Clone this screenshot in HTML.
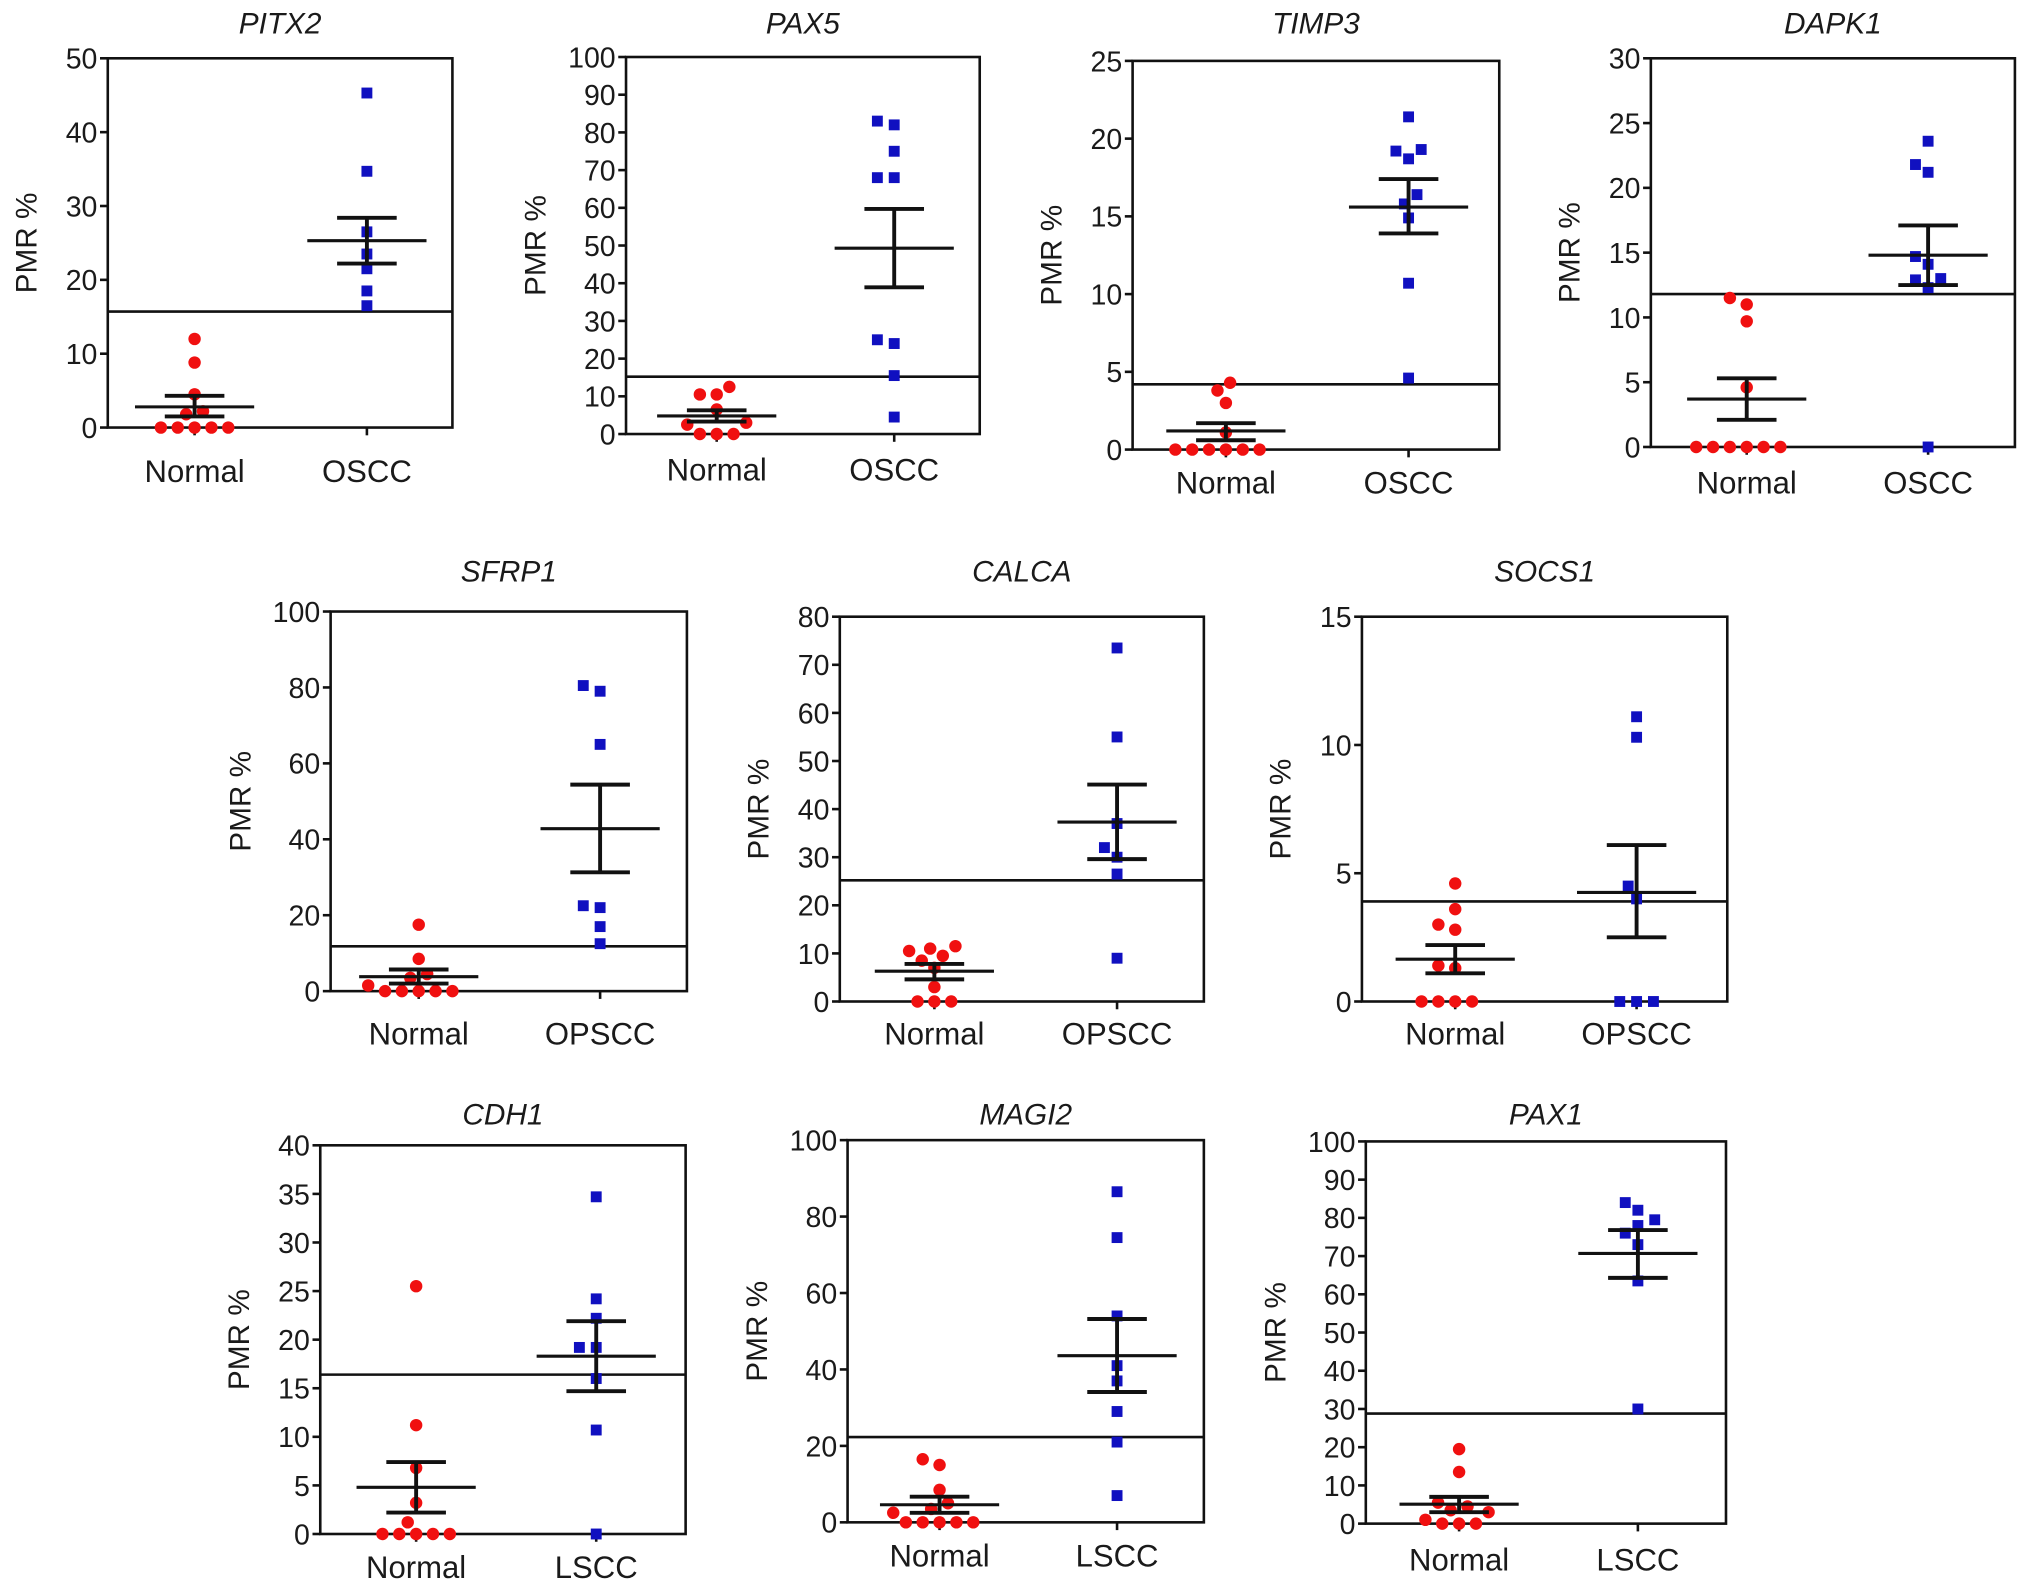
<!DOCTYPE html>
<html><head><meta charset="utf-8"><style>
html,body{margin:0;padding:0;background:#fff;}
svg{display:block;}
text{font-family:"Liberation Sans",Arial,sans-serif;fill:#1a1a1a;}
</style></head><body>
<svg id="fig" width="2032" height="1591" viewBox="0 0 1568 1228" xmlns="http://www.w3.org/2000/svg"></svg>
<script>
// ---- data (PMR % values) ----
const geneNames = ["PITX2","PAX5","TIMP3","DAPK1","SFRP1","CALCA","SOCS1","CDH1","MAGI2","PAX1"];
const tumorLabels = ["OSCC","OSCC","OSCC","OSCC","OPSCC","OPSCC","OPSCC","LSCC","LSCC","LSCC"];
const yMaxValues = [50,100,25,30,100,80,15,40,100,100];
const yStepValues = [10,10,5,5,20,10,5,5,20,10];
const cutoffValues = [15.7,15.2,4.2,11.8,11.8,25.2,3.9,16.4,22.3,28.8];
const normalValues = [
 [12,8.8,4.5,2.2,1.8,0,0,0,0,0],
 [12.5,10.5,10.5,6.5,3,2.5,0,0,0],
 [4.3,3.8,3.0,1.1,0,0,0,0,0,0],
 [11.5,11,9.7,4.6,0,0,0,0,0,0],
 [17.5,8.5,4.5,3.5,1.5,0,0,0,0,0],
 [11.5,11,10.5,9.5,8.5,7,3,0,0,0],
 [4.6,3.6,3.0,2.8,1.4,1.3,0,0,0,0],
 [25.5,11.2,6.8,3.2,1.2,0,0,0,0,0],
 [16.5,15,8.5,5,3.5,2.5,0,0,0,0,0],
 [19.5,13.5,5.5,4.5,3.5,3,1,0,0,0]
];
const tumorValues = [
 [45.3,34.7,26.5,23.5,21.5,18.5,16.5],
 [83,82,75,68,68,25,24,15.5,4.5],
 [21.4,19.3,19.2,18.7,16.4,15.8,14.9,10.7,4.6],
 [23.6,21.8,21.2,14.7,14.1,13,12.9,12.3,0],
 [80.5,79,65,22.5,22,17,12.5],
 [73.5,55,37,32,30,26.5,9],
 [11.1,10.3,4.5,4.0,0,0,0],
 [34.7,24.2,22.2,19.2,19.2,16,10.7,0],
 [86.5,74.5,54,41,37,29,21,7],
 [84,82,79.5,78,76,73,63.5,30]
];
const normalMean = [2.8,4.8,1.2,3.7,3.8,6.3,1.65,4.8,4.6,5.1];
const normalSemHi = [4.3,6.3,1.7,5.3,5.7,7.8,2.2,7.4,6.7,7.0];
const normalSemLo = [1.5,3.3,0.6,2.1,2.0,4.6,1.1,2.2,2.5,3.0];
const tumorMean = [25.3,49.3,15.6,14.8,42.8,37.3,4.25,18.3,43.6,70.7];
const tumorSemHi = [28.4,59.7,17.4,17.1,54.4,45.1,6.1,21.9,53.2,76.8];
const tumorSemLo = [22.2,38.9,13.9,12.5,31.3,29.6,2.5,14.7,34.1,64.3];

// ---- layout (display units, viewBox 1568x1228) ----
const layout = [
 {l:83,r:349,t:45,b:330,xn:150,xt:283,ty:18,ly:363},
 {l:483,r:756,t:44,b:335,xn:553,xt:690,ty:18,ly:362},
 {l:874,r:1157,t:47,b:347,xn:946,xt:1087,ty:18,ly:372},
 {l:1274,r:1555,t:45,b:345,xn:1348,xt:1488,ty:18,ly:372},
 {l:255,r:530,t:472,b:765,xn:323,xt:463,ty:441,ly:797},
 {l:648,r:929,t:476,b:773,xn:721,xt:862,ty:441,ly:797},
 {l:1051,r:1333,t:476,b:773,xn:1123,xt:1263,ty:441,ly:797},
 {l:247,r:529,t:884,b:1184,xn:321,xt:460,ty:860,ly:1209},
 {l:654,r:929,t:880,b:1175,xn:725,xt:862,ty:860,ly:1200},
 {l:1054,r:1332,t:881,b:1176,xn:1126,xt:1264,ty:860,ly:1203}
];
const NS="http://www.w3.org/2000/svg";
const svg=document.getElementById('fig');
function mk(tag,attrs,parent){const e=document.createElementNS(NS,tag);for(const k in attrs)e.setAttribute(k,attrs[k]);(parent||svg).appendChild(e);return e;}

// greedy beeswarm
function swarm(vals,yf,cx,minDist){
  const pts=vals.map(v=>({v,y:yf(v)})).sort((a,b)=>b.y-a.y);
  const cands=[0];for(let k=1;k<=16;k++){cands.push(-k*3.25,k*3.25);}
  const placed=[];
  pts.forEach(p=>{
    for(const o of cands){
      if(placed.every(q=>Math.hypot(q.o-o,q.y-p.y)>=minDist)){placed.push({v:p.v,o,y:p.y});break;}
    }
  });
  return placed.map(q=>({v:q.v,x:cx+q.o,y:q.y}));
}

geneNames.forEach((g,p)=>{
  const L=layout[p];
  const grp=mk('g',{});
  
  
  const ymax=yMaxValues[p];
  const y=v=>L.b-(v/ymax)*(L.b-L.t);
  const t=mk('text',{x:(L.l+L.r)/2,y:L.ty+8,'text-anchor':'middle','font-size':23,'font-style':'italic'},grp);
  t.textContent=g;
  
  
  for(let v=0;v<=ymax+1e-9;v+=yStepValues[p]){
    const ln=mk('line',{x1:L.l-6,x2:L.l,y1:y(v),y2:y(v),stroke:'#111','stroke-width':2},grp);
    
    
    const tl=mk('text',{x:L.l-8,y:y(v)+8,'text-anchor':'end','font-size':22},grp);
    tl.textContent=String(v);
    
    
  }
  const off=ymax>=100?70:63;
  const yt=mk('text',{x:0,y:0,'text-anchor':'middle','font-size':23,transform:`translate(${L.l-off+8},${(L.t+L.b)/2}) rotate(-90)`},grp);
  yt.textContent='PMR %';
  
  
  const bx=mk('rect',{x:L.l,y:L.t,width:L.r-L.l,height:L.b-L.t,fill:'none',stroke:'#111','stroke-width':2},grp);
  
  
  [[L.xn,'Normal'],[L.xt,tumorLabels[p]]].forEach(([cx,lab])=>{
    const tk=mk('line',{x1:cx,x2:cx,y1:L.b,y2:L.b+6,stroke:'#111','stroke-width':2},grp);
    
    
    const xl=mk('text',{x:cx,y:L.ly+9,'text-anchor':'middle','font-size':24},grp);
    xl.textContent=lab;
    
    
  });
  const cl=mk('line',{x1:L.l,x2:L.r,y1:y(cutoffValues[p]),y2:y(cutoffValues[p]),stroke:'#111','stroke-width':2},grp);
  
  
  swarm(normalValues[p],y,L.xn,11).forEach(pt=>{
    const c=mk('circle',{cx:pt.x,cy:pt.y,r:4.8,fill:'#f01010'},grp);
    
    
  });
  swarm(tumorValues[p],y,L.xt,11).forEach(pt=>{
    const s=mk('rect',{x:pt.x-4.2,y:pt.y-4.2,width:8.4,height:8.4,fill:'#1010c0'},grp);
    
    
  });
  [[L.xn,normalMean[p],normalSemHi[p],normalSemLo[p],'normal'],[L.xt,tumorMean[p],tumorSemHi[p],tumorSemLo[p],'tumor']].forEach(([cx,m,hi,lo,nm])=>{
    const ml=mk('line',{x1:cx-46,x2:cx+46,y1:y(m),y2:y(m),stroke:'#111','stroke-width':2.4},grp);
    
    
    const vl=mk('line',{x1:cx,x2:cx,y1:y(hi),y2:y(lo),stroke:'#111','stroke-width':3},grp);
    
    
    [hi,lo].forEach(v=>{
      const cp=mk('line',{x1:cx-23,x2:cx+23,y1:y(v),y2:y(v),stroke:'#111','stroke-width':3},grp);
      
      
    });
  });
});
</script>
</body></html>
